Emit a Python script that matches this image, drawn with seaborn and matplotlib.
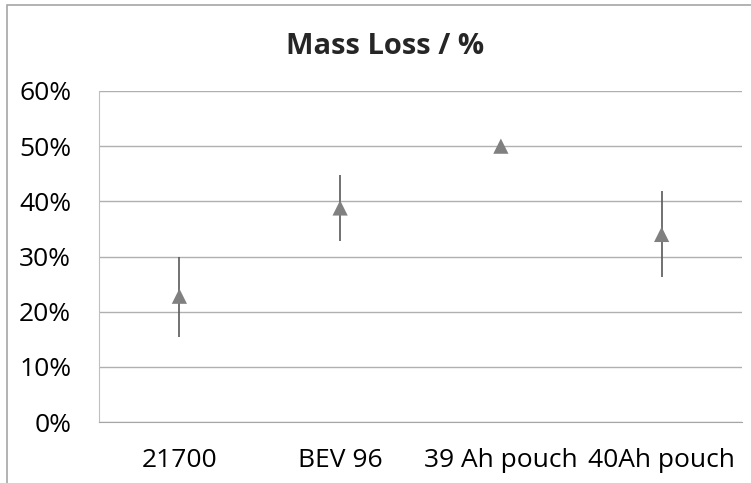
import matplotlib
matplotlib.use('Agg')
import matplotlib.pyplot as plt
import seaborn as sns
import pandas as pd
from matplotlib.patches import Rectangle
from matplotlib.ticker import PercentFormatter

# values (%)
cells = ['21700', 'BEV 96', '39 Ah pouch', '40Ah pouch']
mass_loss = [22.8, 38.8, 50.0, 34.0]
err_up = [7.2, 5.9, 0.6, 7.8]
err_down = [7.4, 6.0, 0.8, 7.7]
yticks = [0, 10, 20, 30, 40, 50, 60]

df = pd.DataFrame({'cell': cells, 'loss': mass_loss})

sns.set_style('white')
plt.rcParams['font.family'] = ['Open Sans', 'DejaVu Sans']

fig = plt.figure(figsize=(7.51, 4.83), dpi=100)
ax = fig.add_axes([99 / 751, 61 / 483, 643 / 751, 331 / 483])

ax.errorbar(df['cell'], df['loss'], yerr=[err_down, err_up], fmt='none',
            ecolor='#595959', elinewidth=1.2, capsize=0, zorder=2)
sns.scatterplot(data=df, x='cell', y='loss', marker='^', s=120,
                color='#808080', edgecolor='none', ax=ax, zorder=3)

ax.set_xlim(-0.5, 3.5)
ax.set_ylim(0, 60)
ax.set_yticks(yticks)
ax.yaxis.set_major_formatter(PercentFormatter(decimals=0))
ax.grid(axis='y', color='#b0b0b0', linewidth=1.0)
ax.grid(axis='x', visible=False)
ax.set_axisbelow(True)
ax.set_xlabel('')
ax.set_ylabel('')
for side in ['top', 'right']:
    ax.spines[side].set_visible(False)
ax.spines['left'].set_color('#bfbfbf')
ax.spines['bottom'].set_color('#a6a6a6')
ax.tick_params(axis='both', length=0, labelsize=19, colors='#000000')
ax.tick_params(axis='y', pad=20)
ax.tick_params(axis='x', pad=18.5)

fig.text(385 / 751, 1 - 46 / 483, 'Mass Loss / %', ha='center', va='center',
         fontsize=21, fontweight='bold')

# chart area border (cut off at right and bottom in the reference)
fig.patches.append(Rectangle((7 / 751, -0.1), 1.2, 1 - 5 / 483 + 0.1,
                             transform=fig.transFigure, fill=False,
                             edgecolor='#a6a6a6', linewidth=1.2))

fig.savefig('out.png', dpi=100)
